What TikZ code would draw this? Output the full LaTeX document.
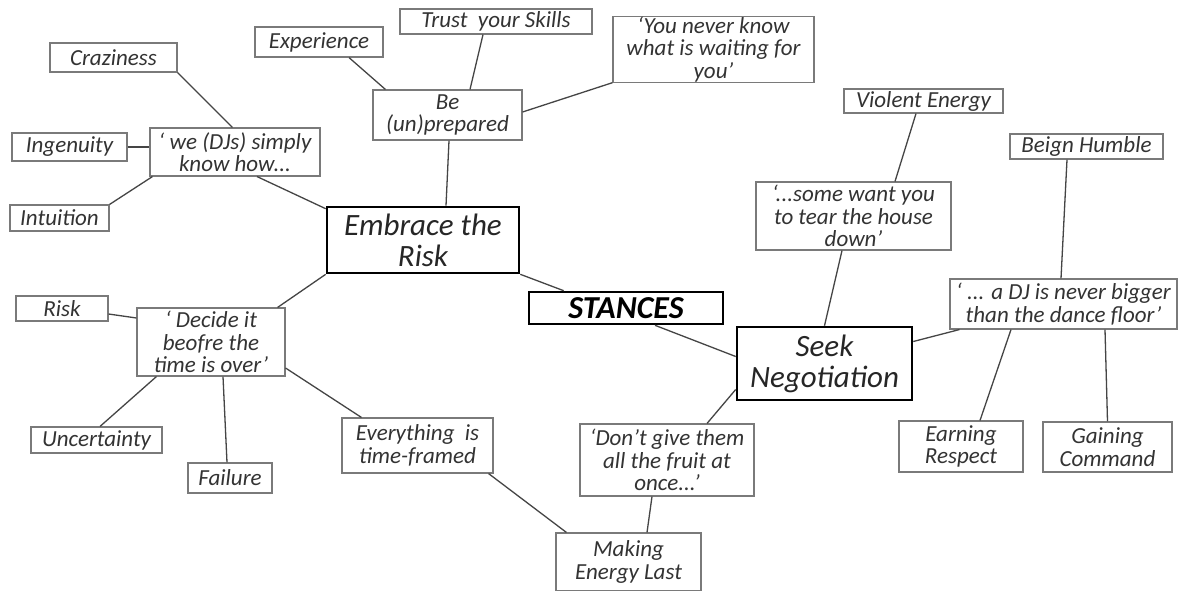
\documentclass[tikz,border=0pt]{standalone}
\usepackage{fontspec}
\setmainfont{Carlito}
\definecolor{boxgray}{HTML}{7A7A7A}
\definecolor{linkgray}{HTML}{454545}
\definecolor{txt}{HTML}{333333}
\begin{document}
\begin{tikzpicture}[x=1pt,y=-1pt,
  leaf/.style={draw=boxgray, line width=1.1pt, inner sep=0pt, align=center,
    text=txt, font=\itshape\fontsize{23}{22.5}\selectfont},
  hub/.style={draw=black, line width=2.6pt, inner sep=0pt, align=center,
    text=black!85, font=\itshape\fontsize{31}{31}\selectfont},
  core/.style={draw=black, line width=2.6pt, inner sep=0pt, align=center,
    text=black, font=\bfseries\itshape\fontsize{32}{32}\selectfont},
  link/.style={draw=linkgray, line width=1.3pt}]
\useasboundingbox (0,0) rectangle (1183,590);
\fill[white] (0,0) rectangle (1183,590);

% central stance and the two main branches
\node[core, minimum width=194pt, minimum height=32pt] (stances) at (626,308) {STANCES};
\node[hub, minimum width=192pt, minimum height=66pt] (embrace) at (423,240) {Embrace the\\Risk};
\node[hub, minimum width=175pt, minimum height=73pt] (seek) at (824.5,363.5) {Seek\\Negotiation};

% embrace-the-risk branch
\node[leaf, minimum width=127pt, minimum height=29pt] (craz) at (113.5,57.5) {Craziness};
\node[leaf, minimum width=115pt, minimum height=28pt] (ing) at (69.5,147) {Ingenuity};
\node[leaf, minimum width=170pt, minimum height=48pt] (we) at (235,152) {‘ we (DJs) simply\\know how...};
\node[leaf, minimum width=99pt, minimum height=26pt] (intu) at (59.5,218) {Intuition};
\node[leaf, minimum width=128pt, minimum height=30pt] (exp) at (319,42) {Experience};
\node[leaf, minimum width=192pt, minimum height=25pt] (trust) at (496,21.5) {Trust\ \ your Skills};
\node[leaf, minimum width=149pt, minimum height=50pt] (be) at (447.5,115) {Be\\(un)prepared};
\node[leaf, minimum width=201pt, minimum height=65pt] (never) at (713.5,49.5) {‘You never know\\what is waiting for\\you’};
\node[leaf, minimum width=92pt, minimum height=25pt] (risk) at (62,308.5) {Risk};
\node[leaf, minimum width=148pt, minimum height=68pt] (decide) at (211,342) {‘ Decide it\\beofre the\\time is over’};
\node[leaf, minimum width=131pt, minimum height=26pt] (unc) at (96.5,440) {Uncertainty};
\node[leaf, minimum width=84pt, minimum height=30pt] (fail) at (230,478) {Failure};
\node[leaf, minimum width=151pt, minimum height=55pt] (every) at (417.5,445.5) {Everything\ \ is\\time-framed};
\node[leaf, minimum width=145pt, minimum height=58pt] (making) at (628.5,562) {Making\\Energy Last};

% seek-negotiation branch
\node[leaf, minimum width=174pt, minimum height=72pt] (dont) at (667,460) {‘Don’t give them\\all the fruit at\\once...’};
\node[leaf, minimum width=159pt, minimum height=24pt] (violent) at (923.5,101) {Violent Energy};
\node[leaf, minimum width=195pt, minimum height=68pt] (some) at (853.5,216) {‘...some want you\\to tear the house\\down’};
\node[leaf, minimum width=153pt, minimum height=25pt] (beign) at (1086.5,146.5) {Beign Humble};
\node[leaf, minimum width=227pt, minimum height=50pt] (dj) at (1063.5,304) {‘ ... a DJ is never bigger\\than the dance floor’};
\node[leaf, minimum width=124pt, minimum height=51pt] (earn) at (961,446.5) {Earning\\Respect};
\node[leaf, minimum width=129pt, minimum height=50pt] (gain) at (1107.5,447) {Gaining\\Command};

% connectors
\draw[link] (craz.south east) -- ([xshift=83pt]we.north west);
\draw[link] (ing.east) -- ([yshift=5pt]we.west);
\draw[link] (intu.north east) -- ([xshift=3pt]we.south west);
\draw[link] ([xshift=22pt]we.south) -- ([yshift=-3pt]embrace.north west);
\draw[link] ([xshift=30pt]exp.south) -- ([xshift=13pt]be.north west);
\draw[link] ([xshift=-13pt]trust.south) -- ([xshift=22.5pt]be.north);
\draw[link] ([yshift=3pt]be.east) -- (never.south west);
\draw[link] ([xshift=1.5pt]be.south) -- ([xshift=23pt]embrace.north);
\draw[link] ([xshift=-8pt]decide.north east) -- (embrace.south west);
\draw[link] (embrace.south east) -- ([xshift=36pt]stances.north west);
\draw[link] ([xshift=29pt]stances.south) -- ([yshift=7pt]seek.west);
\draw[link] ([yshift=-26pt]seek.west) -- ([xshift=40pt]dont.north);
\draw[link] ([xshift=-15pt]dont.south) -- ([xshift=18.5pt]making.north);
\draw[link] ([xshift=-5pt]every.south east) -- ([xshift=11pt]making.north west);
\draw[link] ([yshift=-26pt]decide.east) -- ([xshift=20pt]every.north west);
\draw[link] ([yshift=-5.5pt]risk.east) -- ([yshift=24pt]decide.west);
\draw[link] ([xshift=20pt]decide.south west) -- ([xshift=3.5pt]unc.north);
\draw[link] ([xshift=12pt]decide.south) -- ([xshift=-3pt]fail.north);
\draw[link] ([xshift=-7.5pt]violent.south) -- ([xshift=41.5pt]some.north);
\draw[link] ([xshift=-11.5pt]some.south) -- (seek.north);
\draw[link] ([yshift=22pt]seek.east) -- ([xshift=10pt]dj.south west);
\draw[link] ([xshift=-19.5pt]beign.south) -- ([xshift=-2.5pt]dj.north);
\draw[link] ([xshift=-52.5pt]dj.south) -- ([xshift=19pt]earn.north);
\draw[link] ([xshift=41.5pt]dj.south) -- (gain.north);
\end{tikzpicture}
\end{document}
